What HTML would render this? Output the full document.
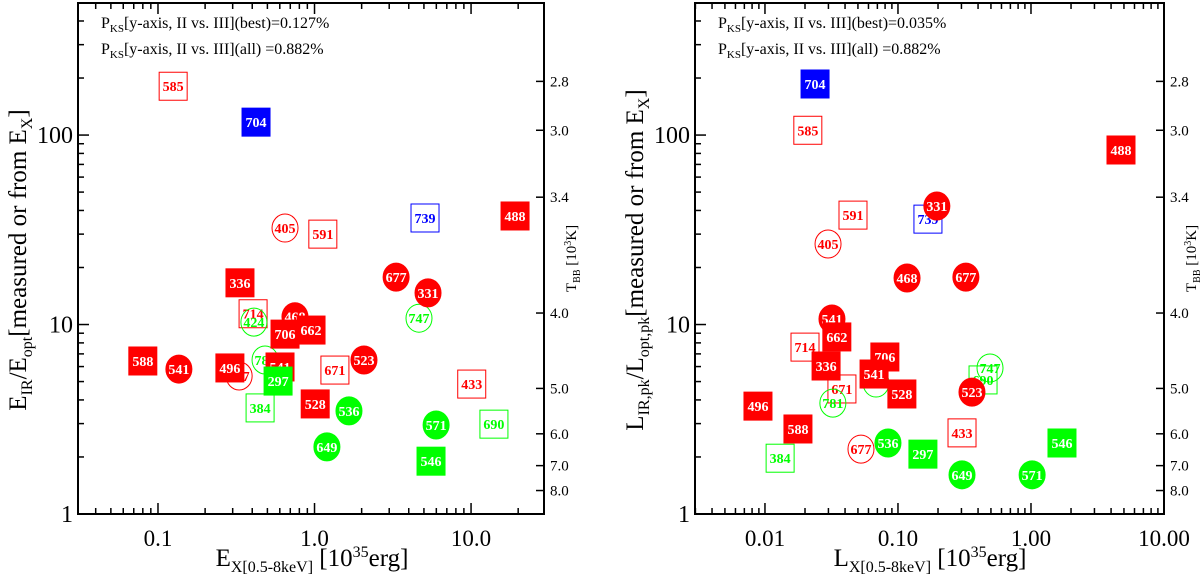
<!DOCTYPE html>
<html><head><meta charset="utf-8"><style>
body{margin:0;background:#fff;}
svg text{font-family:"Liberation Serif",serif;}
</style></head><body>
<svg id="chart" width="1200" height="579" viewBox="0 0 1200 579" xmlns="http://www.w3.org/2000/svg"></svg>
<script>
// ---------- data: left panel (E_X vs E_IR/E_opt) ----------
const leftLabels = ["585","405","591","739","714","424","747","677","781","671","433","384","690",
  "336","677","331","468","706","662","588","541","496","541","523","528","488",
  "297","536","571","649","546","704"];
const leftX = [0.125,0.648,1.13,5.08,0.405,0.41,4.65,0.33,0.483,1.35,10.1,0.449,14.0,
  0.334,3.32,5.31,0.75,0.648,0.95,0.080,0.136,0.288,0.602,2.07,1.01,19.1,
  0.585,1.66,5.98,1.20,5.55,0.423];
const leftY = [181,32.3,30.0,36.5,11.4,10.3,10.8,5.35,6.5,5.75,4.85,3.63,2.98,
  16.6,17.8,14.7,11.0,8.9,9.35,6.42,5.82,5.9,5.97,6.5,3.81,37.4,
  5.03,3.5,2.95,2.26,1.90,117];
const leftColor = ["r","r","r","b","r","g","g","r","g","r","r","g","g",
  "r","r","r","r","r","r","r","r","r","r","r","r","r",
  "g","g","g","g","g","b"];
const leftShape = ["so","co","so","so","so","co","co","co","co","so","so","so","so",
  "sf","cf","cf","cf","sf","sf","sf","cf","sf","sf","cf","sf","sf",
  "sf","cf","cf","cf","sf","sf"];

// ---------- data: right panel (L_X vs L_IR,pk/L_opt,pk) ----------
const rightLabels = ["585","591","739","405","714","424","690","747","671","781","433","677","384",
  "331","468","677","541","662","706","336","541","528","523","496","588","488",
  "536","546","297","649","571","704"];
const rightX = [0.0210,0.0459,0.168,0.0298,0.0200,0.0684,0.436,0.492,0.0379,0.0324,0.303,0.0527,0.0130,
  0.196,0.117,0.324,0.0319,0.0347,0.0797,0.0288,0.0661,0.107,0.360,0.00886,0.0177,4.75,
  0.0841,1.71,0.154,0.303,1.02,0.0238];
const rightY = [106,37.8,36.0,26.6,7.6,4.91,5.1,5.9,4.57,3.85,2.68,2.20,1.97,
  42.2,17.6,17.8,10.7,8.6,6.74,6.04,5.48,4.30,4.40,3.71,2.81,83.4,
  2.37,2.37,2.07,1.61,1.61,186];
const rightColor = ["r","r","b","r","r","g","g","g","r","g","r","r","g",
  "r","r","r","r","r","r","r","r","r","r","r","r","r",
  "g","g","g","g","g","b"];
const rightShape = ["so","so","so","co","so","co","so","co","so","co","so","co","so",
  "cf","cf","cf","cf","sf","sf","sf","sf","sf","cf","sf","sf","sf",
  "cf","sf","sf","cf","cf","sf"];

// axis tick labels
const leftXTicks = [0.1,1,10];
const leftXTickLabels = ["0.1","1.0","10.0"];
const rightXTicks = [0.01,0.1,1,10];
const rightXTickLabels = ["0.01","0.10","1.00","10.00"];
const yTicks = [1,10,100];
const yTickLabels = ["1","10","100"];
const tbbLabels = ["2.8","3.0","3.4","4.0","5.0","6.0","7.0","8.0"];
const tbbYValue = [192,106,47,11.5,4.6,2.65,1.8,1.33];

const NS="http://www.w3.org/2000/svg";
const svg=document.getElementById('chart');
const COL={r:"#ff0000",g:"#00ff00",b:"#0000ff"};
function mk(tag,attrs,parent){const e=document.createElementNS(NS,tag);for(const k in attrs)e.setAttribute(k,attrs[k]);(parent||svg).appendChild(e);return e;}

function panel(cfg){
  const g=mk('g',{});
  
  
  const L=cfg.left,R=cfg.right,T=3,B=514;
  const yLo=0,yHi=2.697;
  const xs=v=>L+(Math.log10(v)-cfg.xmin)/(cfg.xmax-cfg.xmin)*(R-L);
  const ys=v=>B-(Math.log10(v)-yLo)/(yHi-yLo)*(B-T);
  const fr=mk('rect',{x:L,y:T,width:R-L,height:B-T,fill:'none',stroke:'#000','stroke-width':2},g);
  
  
  for(let d=Math.floor(cfg.xmin);d<=Math.ceil(cfg.xmax);d++){
    for(let m=1;m<10;m++){
      const lv=d+Math.log10(m); if(lv<cfg.xmin||lv>cfg.xmax+1e-9)continue;
      const x=xs(Math.pow(10,lv)),len=m===1?11:6;
      mk('line',{x1:x,x2:x,y1:B,y2:B-len,stroke:'#000','stroke-width':1.5},g);
      mk('line',{x1:x,x2:x,y1:T,y2:T+len,stroke:'#000','stroke-width':1.5},g);
    }
  }
  cfg.xt.forEach((v,i)=>{
    const t=mk('text',{x:xs(v),y:546,'font-size':23,'text-anchor':'middle'},g);t.textContent=cfg.xtl[i];
    
    
  });
  for(let d=0;d<=2;d++){for(let m=1;m<10;m++){
    const lv=d+Math.log10(m); if(lv>yHi)continue;
    const y=ys(Math.pow(10,lv)),len=m===1?11:6;
    mk('line',{x1:L,x2:L+len,y1:y,y2:y,stroke:'#000','stroke-width':1.5},g);
  }}
  yTicks.forEach((v,i)=>{
    const t=mk('text',{x:L-5,y:ys(v)+8,'font-size':24,'text-anchor':'end'},g);t.textContent=yTickLabels[i];
    
    
  });
  tbbLabels.forEach((lab,i)=>{
    const y=ys(tbbYValue[i]);
    mk('line',{x1:R,x2:R-8,y1:y,y2:y,stroke:'#000','stroke-width':1.5},g);
    const t=mk('text',{x:R+6,y:y+5,'font-size':15},g);t.textContent=lab;
    
    
  });
  const tb=mk('text',{transform:`translate(${R+32},292) rotate(-90)`,'font-size':15},g);
  tb.innerHTML='T<tspan font-size="10" dy="4">BB</tspan><tspan dy="-4"> [10</tspan><tspan font-size="10" dy="-5">3</tspan><tspan dy="5">K]</tspan>';
  
  
  const yt=mk('text',{transform:`translate(${L-52},260) rotate(-90)`,'font-size':25,'text-anchor':'middle'},g);
  yt.innerHTML=cfg.ytitle;
  
  
  const xt=mk('text',{x:cfg.xtitleX,y:566,'font-size':25,'text-anchor':'middle'},g);
  xt.innerHTML=cfg.xtitle;
  
  
  cfg.ks.forEach((s,i)=>{
    const t=mk('text',{x:L+23,y:28+i*26,'font-size':16},g);
    t.innerHTML='P<tspan font-size="11" dy="4">KS</tspan><tspan dy="-4">'+s+'</tspan>';
    
    
  });
  cfg.labels.forEach((lab,i)=>{
    const cx=xs(cfg.x[i]),cy=ys(cfg.y[i]),c=COL[cfg.color[i]],sh=cfg.shape[i];
    const filled=sh[1]==='f';
    const mg=mk('g',{},g);
    
    
    if(sh[0]==='s') mk('rect',{x:cx-14,y:cy-14,width:28,height:28,fill:filled?c:'#fff','fill-opacity':filled?1:0,stroke:c,'stroke-width':1},mg);
    else mk('ellipse',{cx:cx,cy:cy,rx:13,ry:14,fill:filled?c:'none',stroke:c,'stroke-width':1},mg);
    const t=mk('text',{x:cx,y:cy+5,'font-size':14,'font-weight':'bold','text-anchor':'middle',fill:filled?'#fff':c},mg);
    t.textContent=lab;
  });
}

panel({name:'left-panel',left:78,right:544,xmin:-1.511,xmax:1.466,
  xt:leftXTicks,xtl:leftXTickLabels,labels:leftLabels,x:leftX,y:leftY,color:leftColor,shape:leftShape,
  ytitle:'E<tspan font-size="16" dy="6">IR</tspan><tspan dy="-6">/E</tspan><tspan font-size="16" dy="6">opt</tspan><tspan dy="-6">[measured or from E</tspan><tspan font-size="16" dy="6">X</tspan><tspan dy="-6">]</tspan>',
  xtitle:'E<tspan font-size="16" dy="6">X[0.5-8keV]</tspan><tspan dy="-6"> [10</tspan><tspan font-size="16" dy="-9">35</tspan><tspan dy="9">erg]</tspan>',xtitleX:312,
  ks:['[y-axis, II vs. III](best)=0.127%','[y-axis, II vs. III](all) =0.882%']});
panel({name:'right-panel',left:695,right:1164,xmin:-2.526,xmax:1,
  xt:rightXTicks,xtl:rightXTickLabels,labels:rightLabels,x:rightX,y:rightY,color:rightColor,shape:rightShape,
  ytitle:'L<tspan font-size="16" dy="6">IR,pk</tspan><tspan dy="-6">/L</tspan><tspan font-size="16" dy="6">opt,pk</tspan><tspan dy="-6">[measured or from E</tspan><tspan font-size="16" dy="6">X</tspan><tspan dy="-6">]</tspan>',
  xtitle:'L<tspan font-size="16" dy="6">X[0.5-8keV]</tspan><tspan dy="-6"> [10</tspan><tspan font-size="16" dy="-9">35</tspan><tspan dy="9">erg]</tspan>',xtitleX:930,
  ks:['[y-axis, II vs. III](best)=0.035%','[y-axis, II vs. III](all) =0.882%']});
</script>
</body></html>
